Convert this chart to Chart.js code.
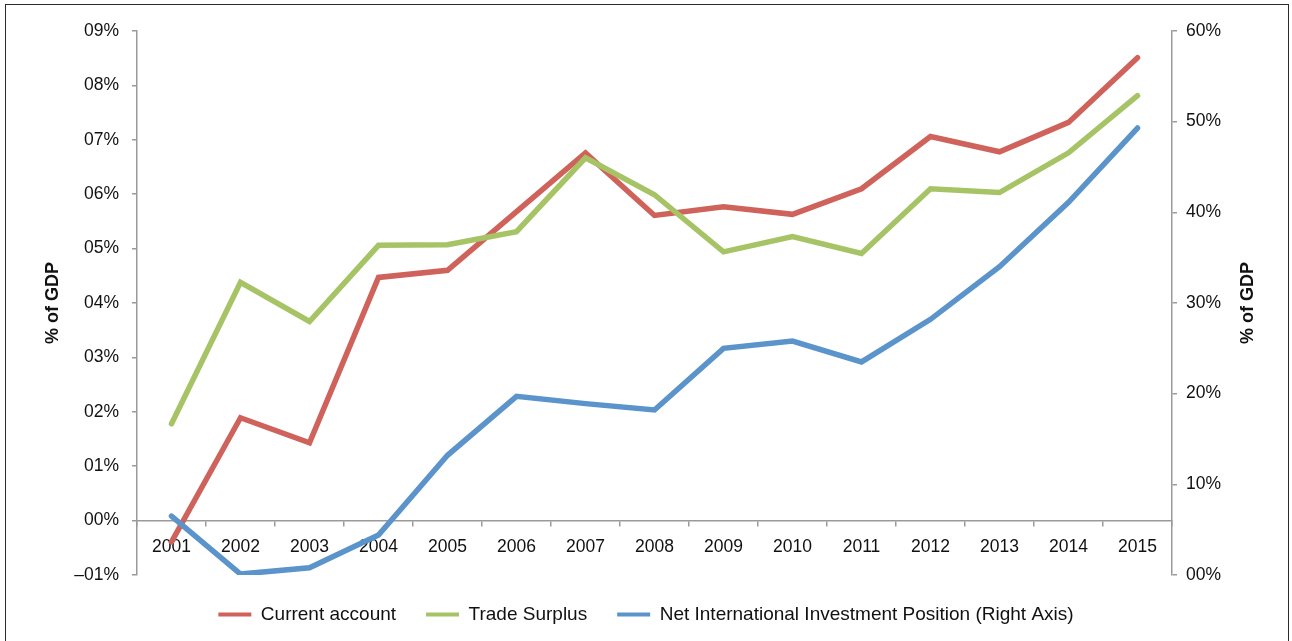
<!DOCTYPE html>
<html>
<head>
<meta charset="utf-8">
<script src="https://cdn.jsdelivr.net/npm/chart.js@4"></script>
<style>
  html, body { margin: 0; padding: 0; background: #fff; overflow: hidden; }
  #frame { position: absolute; left: 5px; top: 4px; width: 1282px; height: 700px; border: 1.5px solid #2b2b2b; }
  #wrap { position: absolute; left: 0; top: 0; width: 1292px; height: 641px; }
</style>
</head>
<body>
<div id="frame"></div>
<div id="wrap"><canvas id="chart" width="1292" height="641"></canvas></div>
<script>
  var years = ["2001", "2002", "2003", "2004", "2005", "2006", "2007", "2008",
    "2009", "2010", "2011", "2012", "2013", "2014", "2015"];

  // % of GDP, left axis
  var currentAccount = [-0.39, 1.89, 1.43, 4.47, 4.60, 5.68, 6.76, 5.61,
    5.77, 5.63, 6.10, 7.06, 6.78, 7.32, 8.51];
  var tradeSurplus = [1.78, 4.38, 3.66, 5.06, 5.07, 5.31, 6.67, 5.99,
    4.94, 5.22, 4.91, 6.10, 6.03, 6.76, 7.81];

  // % of GDP, right axis
  var niip = [6.5, 0.1, 0.8, 4.4, 13.2, 19.7, 18.9, 18.2,
    25.0, 25.8, 23.5, 28.2, 34.0, 41.1, 49.3];

  var seriesNames = ["Current account", "Trade Surplus",
    "Net International Investment Position (Right Axis)"];
  var axisTitle = "% of GDP";

  var FONT = "'Liberation Sans', Arial, sans-serif";
  var AXIS = "#9a9a9a";

  // rotated axis titles, both reading bottom to top
  var axisTitles = {
    id: "axisTitles",
    afterDraw: function (chart) {
      var ctx = chart.ctx;
      var area = chart.chartArea;
      var cy = (area.top + area.bottom) / 2;
      ctx.save();
      ctx.font = "bold 18px " + FONT;
      ctx.fillStyle = "#111";
      ctx.textAlign = "center";
      ctx.textBaseline = "middle";
      [area.left - 84, area.right + 76].forEach(function (x) {
        ctx.save();
        ctx.translate(x, cy);
        ctx.rotate(-Math.PI / 2);
        ctx.fillText(axisTitle, 0, 0);
        ctx.restore();
      });
      ctx.restore();
    }
  };

  function lineSet(label, data, color, axis, order) {
    return {
      label: label,
      data: data,
      yAxisID: axis,
      borderColor: color,
      backgroundColor: color,
      borderWidth: 5.5,
      borderCapStyle: "round",
      pointRadius: 0,
      tension: 0,
      order: order
    };
  }

  new Chart(document.getElementById("chart"), {
    type: "line",
    data: {
      labels: years,
      datasets: [
        lineSet(seriesNames[0], currentAccount, "#cf625a", "y", 3),
        lineSet(seriesNames[1], tradeSurplus, "#a6c465", "y", 2),
        lineSet(seriesNames[2], niip, "#5b93cb", "y1", 1)
      ]
    },
    options: {
      responsive: false,
      animation: false,
      layout: { padding: { top: 31, left: 0, right: 0, bottom: 7 } },
      plugins: {
        tooltip: { enabled: false },
        legend: {
          position: "bottom",
          labels: {
            boxWidth: 33,
            boxHeight: 4,
            padding: 30,
            color: "#111",
            font: { family: FONT, size: 19 },
            sort: function (a, b) { return a.datasetIndex - b.datasetIndex; },
            generateLabels: function (chart) {
              return Chart.defaults.plugins.legend.labels.generateLabels(chart).map(function (l) {
                l.lineWidth = 0;
                return l;
              });
            }
          }
        }
      },
      scales: {
        x: {
          type: "category",
          position: { y: 0 },
          offset: true,
          grid: { offset: true, drawOnChartArea: false, tickLength: 5, color: AXIS, lineWidth: 1.5 },
          border: { color: AXIS, width: 1.5 },
          ticks: { color: "#111", padding: 11, maxRotation: 0, font: { family: FONT, size: 17.5 } }
        },
        y: {
          position: "left",
          min: -1,
          max: 9,
          grid: { drawOnChartArea: false, tickLength: 5, color: AXIS, lineWidth: 1.5 },
          border: { color: AXIS, width: 1.5 },
          ticks: {
            stepSize: 1,
            padding: 13,
            color: "#111",
            font: { family: FONT, size: 17.5 },
            callback: function (v) {
              return (v < 0 ? "\u20130" : "0") + Math.abs(v) + "%";
            }
          },
          afterFit: function (s) { s.width = 137; }
        },
        y1: {
          position: "right",
          min: 0,
          max: 60,
          grid: { drawOnChartArea: false, tickLength: 5, color: AXIS, lineWidth: 1.5 },
          border: { color: AXIS, width: 1.5 },
          ticks: {
            stepSize: 10,
            padding: 9,
            color: "#111",
            font: { family: FONT, size: 17.5 },
            callback: function (v) {
              return (v === 0 ? "00" : v) + "%";
            }
          },
          afterFit: function (s) { s.width = 120; }
        }
      }
    },
    plugins: [axisTitles]
  });
</script>
</body>
</html>
